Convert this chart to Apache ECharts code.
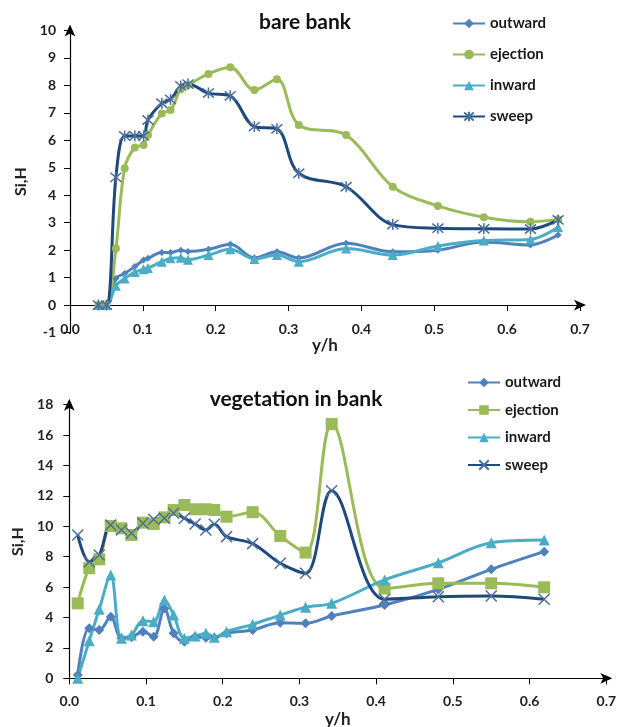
<!DOCTYPE html>
<html>
<head>
<meta charset="utf-8">
<script src="https://cdn.jsdelivr.net/npm/echarts@6/dist/echarts.min.js"></script>
<style>html,body{margin:0;padding:0;background:#fff}#c{width:623px;height:727px}</style>
</head>
<body>
<div id="c"></div>
<script>
// ---- Top chart: bare bank ----
const topX = [0.039,0.050,0.063,0.075,0.089,0.101,0.107,0.126,0.138,0.152,0.162,0.190,0.220,0.253,0.284,0.314,0.379,0.443,0.505,0.568,0.632,0.670];
const topOutward  = [0,0,0.97,1.15,1.40,1.64,1.70,1.91,1.91,2.00,1.95,2.03,2.21,1.72,1.94,1.71,2.25,1.94,2.00,2.30,2.19,2.55];
const topEjection = [0,0,2.06,4.98,5.74,5.83,6.19,6.98,7.10,7.86,8.01,8.42,8.66,7.83,8.22,6.56,6.19,4.31,3.61,3.20,3.03,3.12];
const topInward   = [0,0,0.70,0.97,1.20,1.30,1.35,1.58,1.70,1.72,1.65,1.82,2.03,1.68,1.82,1.58,2.06,1.82,2.15,2.35,2.39,2.83];
const topSweep    = [0,0,4.65,6.16,6.16,6.16,6.74,7.35,7.49,7.98,8.05,7.72,7.62,6.50,6.42,4.80,4.31,2.93,2.80,2.78,2.77,3.10];

// ---- Bottom chart: vegetation in bank ----
const botX = [0.011,0.026,0.039,0.054,0.068,0.081,0.096,0.110,0.124,0.136,0.150,0.164,0.178,0.189,0.205,0.239,0.275,0.308,0.342,0.411,0.481,0.550,0.619];
const botOutward  = [0.22,3.29,3.18,4.05,2.63,2.70,3.07,2.74,4.60,2.96,2.41,2.74,2.67,2.67,2.96,3.18,3.66,3.62,4.10,4.82,5.85,7.17,8.33];
const botEjection = [4.93,7.24,7.83,10.02,9.87,9.43,10.24,10.15,10.59,11.07,11.40,11.12,11.12,11.07,10.63,10.93,9.36,8.27,16.73,5.90,6.25,6.25,5.99];
const botInward   = [0,2.47,4.54,6.80,2.63,2.85,3.79,3.72,5.15,4.16,2.63,2.78,2.96,2.70,3.07,3.55,4.16,4.67,4.93,6.47,7.60,8.92,9.10];
const botSweep    = [9.43,7.67,8.11,10.09,9.76,9.54,10.20,10.46,10.53,10.86,10.53,10.15,9.76,10.13,9.32,8.86,7.57,6.91,12.34,5.20,5.37,5.41,5.20];

const seriesNames = ['outward','ejection','inward','sweep'];
const topTitle = 'bare bank';
const botTitle = 'vegetation in bank';

const C = {outward:'#4F81BD', ejection:'#9BBB59', inward:'#4BACC6', sweep:'#1F497D'};
const FONT = 'Lato';
const pairs = (xs, ys) => xs.map((x, i) => [x, ys[i]]);

const asterisk = 'path://M0,0L10,10M10,0L0,10M5,-1L5,11';
const cross = 'path://M0,0L10,10M10,0L0,10';

function mk(name, data, gi, symbol, size, extra) {
  return Object.assign({
    name: name, type: 'line', data: data,
    xAxisIndex: gi === 0 ? 0 : 2, yAxisIndex: gi,
    smooth: 0.35, symbol: symbol, symbolSize: size,
    lineStyle: {width: 3, color: C[name.replace('_b','')]},
    itemStyle: {color: C[name.replace('_b','')]},
    emphasis: {disabled: true}, z: 3
  }, extra || {});
}

const labelStyle = {fontFamily: FONT, fontWeight: 'bold', fontSize: 14, color: '#222'};
const legendText = {fontFamily: FONT, fontWeight: 'bold', fontSize: 15, color: '#1a1a1a'};

const option = {
  animation: false,
  backgroundColor: '#fff',
  title: [
    {text: topTitle, left: 300, top: 7, textAlign: 'center',
     textStyle: {fontFamily: FONT, fontWeight: 'bold', fontSize: 21, color: '#111'}},
    {text: botTitle, left: 291, top: 384, textAlign: 'center',
     textStyle: {fontFamily: FONT, fontWeight: 'bold', fontSize: 21, color: '#111'}}
  ],
  legend: [
    {orient: 'vertical', left: 447, top: 11, itemWidth: 32, itemHeight: 12, itemGap: 16,
     data: seriesNames, textStyle: legendText},
    {orient: 'vertical', left: 462, top: 370, itemWidth: 32, itemHeight: 12, itemGap: 12.5,
     data: seriesNames.map(n => n + '_b'), formatter: n => n.replace('_b',''), textStyle: legendText}
  ],
  grid: [
    {left: 70, top: 30.5, width: 510, height: 302, outerBoundsMode: 'none', containLabel: false},
    {left: 69.3, top: 404.7, width: 537, height: 273.6, outerBoundsMode: 'none', containLabel: false}
  ],
  xAxis: [
    {type: 'value', gridIndex: 0, min: 0, max: 0.7, interval: 0.1, position: 'bottom', offset: -10,
     axisLine: {show: false, onZero: false}, axisTick: {show: false}, splitLine: {show: false},
     axisLabel: Object.assign({margin: 0, formatter: v => v.toFixed(1)}, labelStyle),
     name: 'y/h', nameLocation: 'middle', nameGap: 15,
     nameTextStyle: {fontFamily: FONT, fontWeight: 'bold', fontSize: 17, color: '#222'}},
    {type: 'value', gridIndex: 0, min: 0, max: 0.7, interval: 0.1, position: 'bottom',
     axisLine: {show: true, onZero: true, symbol: ['none','arrow'], symbolSize: [8, 12], symbolOffset: [0, 6],
       lineStyle: {color: '#000', width: 1.2}},
     axisTick: {show: true, inside: false, length: 6, lineStyle: {color: '#000'}},
     axisLabel: {show: false}, splitLine: {show: false}},
    {type: 'value', gridIndex: 1, min: 0, max: 0.7, interval: 0.1, position: 'bottom',
     axisLine: {show: true, onZero: true, symbol: ['none','arrow'], symbolSize: [8, 12], symbolOffset: [0, 6],
       lineStyle: {color: '#000', width: 1.2}},
     axisTick: {show: true, length: 6, lineStyle: {color: '#000'}}, splitLine: {show: false},
     axisLabel: Object.assign({margin: 16, formatter: v => v.toFixed(1)}, labelStyle),
     name: 'y/h', nameLocation: 'middle', nameGap: 33,
     nameTextStyle: {fontFamily: FONT, fontWeight: 'bold', fontSize: 17, color: '#222'}}
  ],
  yAxis: [
    {type: 'value', gridIndex: 0, min: -1, max: 10, interval: 1,
     axisLine: {show: true, onZero: false, symbol: ['none','arrow'], symbolSize: [8, 12], symbolOffset: [0, 6],
       lineStyle: {color: '#000', width: 1.2}},
     axisTick: {show: true, length: 6, lineStyle: {color: '#000'}}, splitLine: {show: false},
     axisLabel: Object.assign({margin: 14}, labelStyle),
     name: 'Si,H', nameLocation: 'middle', nameGap: 37, nameRotate: 90,
     nameTextStyle: {fontFamily: FONT, fontWeight: 'bold', fontSize: 16, color: '#222'}},
    {type: 'value', gridIndex: 1, min: 0, max: 18, interval: 2,
     axisLine: {show: true, onZero: false, symbol: ['none','arrow'], symbolSize: [8, 12], symbolOffset: [0, 6],
       lineStyle: {color: '#000', width: 1.2}},
     axisTick: {show: true, length: 6, lineStyle: {color: '#000'}}, splitLine: {show: false},
     axisLabel: Object.assign({margin: 16}, labelStyle),
     name: 'Si,H', nameLocation: 'middle', nameGap: 42, nameRotate: 90,
     nameTextStyle: {fontFamily: FONT, fontWeight: 'bold', fontSize: 16, color: '#222'}}
  ],
  series: [
    mk('outward', pairs(topX, topOutward), 0, 'diamond', 7),
    mk('ejection', pairs(topX, topEjection), 0, 'circle', 8),
    mk('inward', pairs(topX, topInward), 0, 'triangle', 10),
    mk('sweep', pairs(topX, topSweep), 0, asterisk, 11,
       {itemStyle: {color: 'rgba(0,0,0,0)', borderColor: '#4A6E9E', borderWidth: 1.5}}),
    mk('outward_b', pairs(botX, botOutward), 1, 'diamond', 10),
    mk('ejection_b', pairs(botX, botEjection), 1, 'rect', 12),
    mk('inward_b', pairs(botX, botInward), 1, 'triangle', 11),
    mk('sweep_b', pairs(botX, botSweep), 1, cross, 11,
       {itemStyle: {color: 'rgba(0,0,0,0)', borderColor: '#4A6E9E', borderWidth: 1.5}})
  ]
};

const chart = echarts.init(document.getElementById('c'), null, {renderer: 'canvas'});
chart.setOption(option);
</script>
</body>
</html>
